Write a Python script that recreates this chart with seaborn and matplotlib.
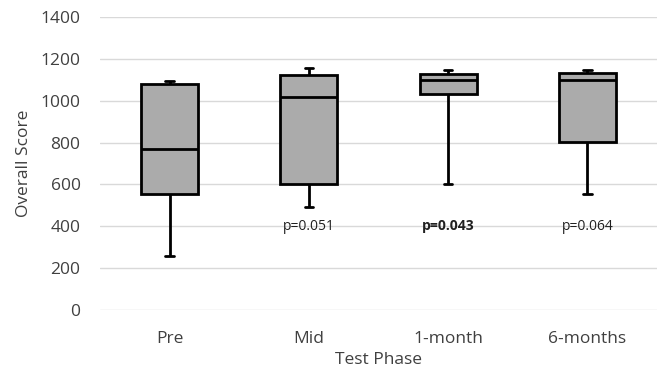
import matplotlib
matplotlib.use("Agg")
import matplotlib.pyplot as plt
import seaborn as sns
import pandas as pd
import numpy as np

phases = ["Pre", "Mid", "1-month", "6-months"]
# five-number summaries: min, Q1, median, Q3, max
pre_vals = [256, 552, 769, 1078, 1093]
mid_vals = [492, 603, 1016, 1121, 1155]
m1_vals = [600, 1034, 1097, 1130, 1149]
m6_vals = [552, 805, 1101, 1133, 1145]
p_labels = ["", "p=0.051", "p=0.043", "p=0.064"]
p_bold = [False, False, True, False]
p_y = 400

df = pd.DataFrame({
    "Test Phase": sum([[p] * 5 for p in phases], []),
    "Overall Score": pre_vals + mid_vals + m1_vals + m6_vals,
})

sns.set_style("white")
plt.rcParams["font.family"] = ["Open Sans", "DejaVu Sans"]

fig = plt.figure(figsize=(6.64, 3.78), dpi=100)
ax = fig.add_axes([0.1506, 0.180, 0.839, 0.775])

sns.boxplot(data=df, x="Test Phase", y="Overall Score", order=phases,
            whis=(0, 100), width=0.41, color="#ababab", saturation=1,
            linecolor="black", linewidth=2.0, ax=ax,
            capwidths=0.06)

ax.set_ylim(0, 1400)
ax.set_xlim(-0.5, 3.5)
ax.set_yticks(range(0, 1401, 200))
ax.yaxis.grid(True, color="#d9d9d9", linewidth=1.0)
ax.set_axisbelow(True)
for s in ax.spines.values():
    s.set_visible(False)
ax.tick_params(axis="both", length=0, labelsize=12.5, colors="#404040")
ax.tick_params(axis="y", pad=14)
ax.tick_params(axis="x", pad=15)
ax.set_xlabel("Test Phase", fontsize=12.5, color="#404040", labelpad=4)
ax.set_ylabel("Overall Score", fontsize=12.5, color="#404040", labelpad=6)

for i, (lab, b) in enumerate(zip(p_labels, p_bold)):
    if lab:
        ax.text(i, p_y, lab, ha="center", va="center", fontsize=10,
                fontweight="bold" if b else "normal", color="#202020")

fig.savefig("out.png", dpi=100)
